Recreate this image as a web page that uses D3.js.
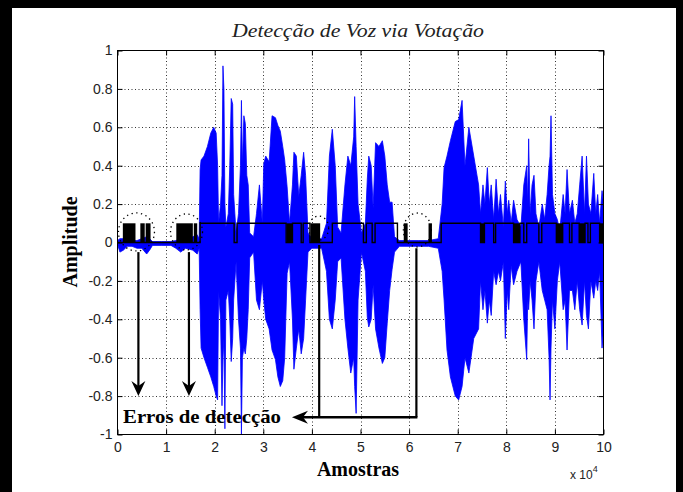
<!DOCTYPE html>
<html>
<head>
<meta charset="utf-8">
<script src="https://cdn.jsdelivr.net/npm/d3@7"></script>
<style>
  body { margin: 0; background: #fff; }
  svg { display: block; }
  .tick text { font-family: "Liberation Sans", Arial, sans-serif; font-size: 14px; fill: #222; }
  .serif { font-family: "Liberation Serif", "Times New Roman", serif; }
</style>
</head>
<body>
<svg id="chart" width="683" height="492"></svg>
<script>
// axis ticks (x in units of 10^4 samples)
const xTicks      = [0, 1, 2, 3, 4, 5, 6, 7, 8, 9, 10];
const xTickLabels = ['0', '1', '2', '3', '4', '5', '6', '7', '8', '9', '10'];
const yTicks      = [-1, -0.8, -0.6, -0.4, -0.2, 0, 0.2, 0.4, 0.6, 0.8, 1];
const yTickLabels = ['-1', '-0.8', '-0.6', '-0.4', '-0.2', '0', '0.2', '0.4', '0.6', '0.8', '1'];

// speech signal envelope
const waveX  = [0.00, 0.05, 0.12, 0.20, 0.30, 0.40, 0.50, 0.60, 0.66, 0.72, 0.90, 1.10, 1.20, 1.30, 1.40, 1.55, 1.64, 1.68,
                1.70, 1.72, 1.78, 1.85, 1.92, 1.98, 2.03, 2.06, 2.08, 2.12, 2.15, 2.17, 2.19, 2.21, 2.23, 2.28, 2.31, 2.34,
                2.37, 2.39, 2.44, 2.49, 2.53, 2.55, 2.57, 2.60, 2.63, 2.66, 2.69, 2.72, 2.80, 2.86, 2.92, 2.98,
                3.01, 3.05, 3.12, 3.18, 3.25, 3.30, 3.35, 3.40, 3.44, 3.49, 3.54, 3.60, 3.63, 3.68, 3.73, 3.78, 3.83, 3.87,
                3.92, 4.00, 4.20, 4.30, 4.36, 4.42, 4.48, 4.53, 4.60, 4.68, 4.74, 4.80, 4.86, 4.88, 4.91, 4.95, 5.02, 5.10,
                5.14, 5.17, 5.22, 5.26, 5.31, 5.38, 5.45, 5.50, 5.55, 5.60, 5.65, 5.70, 5.80, 6.00, 6.20, 6.40, 6.60,
                6.68, 6.72, 6.78, 6.85, 6.95, 7.02, 7.09, 7.15, 7.23, 7.33, 7.43, 7.47, 7.52, 7.56, 7.61, 7.65, 7.69, 7.74,
                7.79, 7.84, 7.88, 7.94, 7.98, 8.02, 8.05, 8.10, 8.15, 8.22, 8.30, 8.36, 8.42, 8.44, 8.46, 8.49, 8.53, 8.57,
                8.61, 8.67, 8.74, 8.79, 8.84, 8.88, 8.90, 8.92, 8.95, 9.00, 9.05, 9.10, 9.17, 9.21, 9.25, 9.30, 9.36, 9.41,
                9.46, 9.51, 9.56, 9.61, 9.65, 9.69, 9.74, 9.80, 9.84, 9.88, 9.92, 9.97, 10.0];
const waveHi = [0.01, 0.02, 0.02, 0.01, 0.01, 0.01, 0.02, 0.03, 0.02, 0.005, 0.005, 0.005, 0.01, 0.02, 0.01, 0.03, 0.04, 0.02,
                0.38, 0.43, 0.45, 0.50, 0.57, 0.60, 0.57, 0.40, 0.10, 0.20, 0.35, 0.92, 0.80, 0.20, 0.08, 0.15, 0.40, 0.75,
                0.72, 0.25, 0.05, 0.15, 0.40, 0.74, 0.40, 0.66, 0.62, 0.35, 0.30, 0.05, 0.03, 0.15, 0.30, 0.10,
                0.41, 0.45, 0.42, 0.66, 0.65, 0.61, 0.58, 0.50, 0.43, 0.29, 0.10, 0.30, 0.47, 0.45, 0.24, 0.35, 0.47, 0.35,
                0.05, 0.02, 0.02, 0.10, 0.45, 0.59, 0.40, 0.08, 0.05, 0.30, 0.45, 0.40, 0.55, 0.76, 0.50, 0.20, 0.05, 0.10,
                0.33, 0.45, 0.40, 0.18, 0.52, 0.50, 0.53, 0.45, 0.30, 0.21, 0.21, 0.03, 0.01, 0.01, 0.01, 0.01, 0.02,
                0.20, 0.39, 0.45, 0.53, 0.63, 0.64, 0.74, 0.40, 0.60, 0.45, 0.30, 0.15, 0.30, 0.20, 0.39, 0.20, 0.30, 0.12,
                0.33, 0.15, 0.25, 0.08, 0.32, 0.15, 0.22, 0.10, 0.22, 0.12, 0.08, 0.30, 0.40, 0.20, 0.54, 0.15, 0.30, 0.35,
                0.15, 0.08, 0.20, 0.12, 0.25, 0.40, 0.45, 0.66, 0.25, 0.15, 0.12, 0.06, 0.25, 0.15, 0.38, 0.15, 0.22, 0.10,
                0.15, 0.30, 0.45, 0.15, 0.45, 0.20, 0.15, 0.36, 0.15, 0.25, 0.10, 0.27, 0.20];
const waveLo = [-0.01, -0.05, -0.04, -0.02, -0.02, -0.03, -0.03, -0.06, -0.04, -0.015, -0.015, -0.015, -0.03, -0.05, -0.03, -0.04, -0.06, -0.03,
                -0.35, -0.55, -0.60, -0.65, -0.70, -0.75, -0.80, -0.82, -0.25, -0.40, -0.85, -0.60, -0.50, -0.97, -0.30, -0.25, -0.40, -0.62,
                -0.50, -0.30, -0.10, -0.40, -0.55, -1.00, -0.60, -0.55, -0.58, -0.50, -0.35, -0.08, -0.05, -0.30, -0.35, -0.20,
                -0.30, -0.40, -0.45, -0.56, -0.61, -0.70, -0.75, -0.72, -0.60, -0.16, -0.10, -0.40, -0.66, -0.55, -0.45, -0.58, -0.50, -0.30,
                -0.05, -0.03, -0.03, -0.15, -0.40, -0.45, -0.30, -0.10, -0.08, -0.40, -0.55, -0.68, -0.60, -0.75, -0.89, -0.30, -0.05, -0.15,
                -0.39, -0.44, -0.40, -0.22, -0.45, -0.55, -0.63, -0.60, -0.42, -0.25, -0.14, -0.05, -0.02, -0.02, -0.02, -0.02, -0.03,
                -0.15, -0.30, -0.56, -0.70, -0.80, -0.82, -0.75, -0.60, -0.68, -0.50, -0.45, -0.20, -0.35, -0.25, -0.42, -0.30, -0.38, -0.15,
                -0.22, -0.15, -0.20, -0.10, -0.50, -0.25, -0.35, -0.12, -0.22, -0.15, -0.10, -0.40, -0.61, -0.30, -0.35, -0.20, -0.30, -0.45,
                -0.20, -0.10, -0.25, -0.30, -0.35, -0.60, -0.82, -0.55, -0.30, -0.45, -0.20, -0.10, -0.35, -0.30, -0.56, -0.25, -0.25, -0.35,
                -0.20, -0.35, -0.43, -0.20, -0.38, -0.45, -0.20, -0.29, -0.20, -0.25, -0.15, -0.55, -0.45];

// voice detector output (0 / 0.1): intervals where it is on, and blocks of fast toggling
const DET_LOW  = 0;
const DET_HIGH = 0.1;
const detOn    = [[1.70, 2.40], [2.46, 3.47], [3.60, 3.78], [3.82, 3.96], [4.42, 5.06], [5.12, 5.24], [5.30, 5.76],
                  [6.66, 7.47], [7.55, 7.74], [7.78, 8.15], [8.28, 8.36], [8.42, 8.67], [8.73, 9.03], [9.16, 9.30],
                  [9.35, 9.50], [9.62, 9.68], [9.73, 9.92]];
const detDense = [[0.11, 0.37], [0.47, 0.56], [0.58, 0.68], [1.21, 1.55], [1.57, 1.64], [3.48, 3.60], [3.97, 4.17],
                  [5.89, 5.97], [6.40, 6.47], [7.47, 7.55], [8.15, 8.28], [9.03, 9.16], [9.50, 9.62], [9.92, 10.0]];

// annotations: error circles [x, y, rx px, ry px], arrows, bracket
const errCircles  = [[0.39, 0.055, 18, 19], [1.42, 0.055, 16, 18], [4.14, 0.075, 10, 12], [6.17, 0.065, 14, 17]];
const downArrows  = [[0.43, -0.05, -0.80], [1.47, -0.05, -0.80]];
const bracketX    = [4.15, 6.15];
const bracketTop  = [-0.013, -0.03];
const bracketY    = -0.91;
const bracketTipX = 3.59;

const svg = d3.select('#chart');
const x = d3.scaleLinear().domain([0, 10]).range([117.5, 603.5]);
const y = d3.scaleLinear().domain([-1, 1]).range([434.5, 50.5]);

svg.append('rect').attr('width', 683).attr('height', 492).attr('fill', '#fff');

// dotted grid
const grid = svg.append('g').attr('stroke', '#333').attr('stroke-width', 1).attr('stroke-dasharray', '1,2.5');
grid.selectAll('.gx').data(xTicks.slice(1, -1)).enter().append('line')
  .attr('x1', d => Math.round(x(d)) + 0.5).attr('x2', d => Math.round(x(d)) + 0.5)
  .attr('y1', y(1)).attr('y2', y(-1));
grid.selectAll('.gy').data(yTicks.slice(1, -1)).enter().append('line')
  .attr('y1', d => Math.round(y(d)) + 0.5).attr('y2', d => Math.round(y(d)) + 0.5)
  .attr('x1', x(0)).attr('x2', x(10));

// speech signal
const area = d3.area()
  .x((d, i) => x(waveX[i]))
  .y0((d, i) => y(waveLo[i]))
  .y1((d, i) => y(waveHi[i]));
svg.append('path')
  .attr('d', area(waveX))
  .attr('fill', '#0000ff').attr('stroke', '#0000ff').attr('stroke-width', 0.8);

// dotted error circles
svg.selectAll('.circ').data(errCircles).enter().append('ellipse')
  .attr('cx', d => x(d[0])).attr('cy', d => y(d[1]))
  .attr('rx', d => d[2]).attr('ry', d => d[3])
  .attr('fill', 'none').attr('stroke', '#000').attr('stroke-width', 1.3)
  .attr('stroke-dasharray', '1.3,3.5');

// detector output
const detPts = [[0, DET_LOW]];
detOn.forEach(([a, b]) => detPts.push([a, DET_LOW], [a, DET_HIGH], [b, DET_HIGH], [b, DET_LOW]));
detPts.push([10, DET_LOW]);
svg.append('path')
  .attr('d', d3.line().x(d => x(d[0])).y(d => y(d[1]))(detPts))
  .attr('fill', 'none').attr('stroke', '#000').attr('stroke-width', 1.4);
svg.selectAll('.dense').data(detDense).enter().append('rect')
  .attr('x', d => x(d[0])).attr('width', d => x(d[1]) - x(d[0]))
  .attr('y', y(DET_HIGH)).attr('height', y(DET_LOW) - y(DET_HIGH))
  .attr('fill', '#000');

// axes, ticks inside on all four sides
const xLab = (d, i) => xTickLabels[i];
const yLab = (d, i) => yTickLabels[i];
const axes = [
  [d3.axisBottom(x).tickValues(xTicks).tickFormat(xLab).tickPadding(8), `translate(0,${y(-1)})`],
  [d3.axisTop(x).tickValues(xTicks).tickFormat(''), `translate(0,${y(1)})`],
  [d3.axisLeft(y).tickValues(yTicks).tickFormat(yLab).tickPadding(5), `translate(${x(0)},0)`],
  [d3.axisRight(y).tickValues(yTicks).tickFormat(''), `translate(${x(10)},0)`]
];
axes.forEach(([ax, tr]) => {
  const g = svg.append('g').attr('transform', tr)
    .call(ax.tickSizeInner(-5).tickSizeOuter(0));
  g.select('.domain').remove();
  g.selectAll('.tick line').attr('stroke', '#000');
});
svg.append('rect')
  .attr('x', x(0)).attr('y', y(1)).attr('width', x(10) - x(0)).attr('height', y(-1) - y(1))
  .attr('fill', 'none').attr('stroke', '#000');

// arrows
const arrows = svg.append('g').attr('stroke', '#000').attr('stroke-width', 2.2).attr('fill', 'none');
downArrows.forEach(([ax, y0, y1]) => {
  const px = x(ax), tip = y(y1);
  arrows.append('line').attr('x1', px).attr('x2', px).attr('y1', y(y0)).attr('y2', tip - 6);
  svg.append('path')
    .attr('d', `M${px},${tip} L${px - 7},${tip - 15} L${px},${tip - 10} L${px + 7},${tip - 15} Z`)
    .attr('fill', '#000');
});
bracketX.forEach((bx, i) => {
  arrows.append('line').attr('x1', x(bx)).attr('x2', x(bx)).attr('y1', y(bracketTop[i])).attr('y2', y(bracketY));
});
const tipPx = x(bracketTipX), by = y(bracketY);
arrows.append('line').attr('x1', x(bracketX[1]) + 1).attr('x2', tipPx + 6).attr('y1', by).attr('y2', by)
  .attr('stroke-width', 2.6);
svg.append('path')
  .attr('d', `M${tipPx},${by} L${tipPx + 16},${by - 6.5} L${tipPx + 11},${by} L${tipPx + 16},${by + 6.5} Z`)
  .attr('fill', '#000');

// texts
svg.append('text').attr('class', 'serif')
  .attr('x', 123).attr('y', 422.5)
  .attr('font-size', 18).attr('font-weight', 'bold')
  .attr('textLength', 158).attr('lengthAdjust', 'spacingAndGlyphs')
  .text('Erros de detecção');

svg.append('text').attr('class', 'serif')
  .attr('x', 358).attr('y', 37).attr('text-anchor', 'middle')
  .attr('font-size', 19).attr('font-style', 'italic').attr('fill', '#222')
  .attr('textLength', 252).attr('lengthAdjust', 'spacingAndGlyphs')
  .text('Detecção de Voz via Votação');

svg.append('text').attr('class', 'serif')
  .attr('x', 358).attr('y', 476).attr('text-anchor', 'middle')
  .attr('font-size', 20).attr('font-weight', 'bold')
  .text('Amostras');

svg.append('text').attr('class', 'serif')
  .attr('transform', 'translate(77,242) rotate(-90)').attr('text-anchor', 'middle')
  .attr('font-size', 20).attr('font-weight', 'bold')
  .text('Amplitude');

const expo = svg.append('text')
  .attr('x', 570).attr('y', 479)
  .attr('font-family', '"Liberation Sans", Arial, sans-serif').attr('font-size', 12).attr('fill', '#222');
expo.append('tspan').text('x 10');
expo.append('tspan').attr('dy', -7).attr('font-size', 9).text('4');

// outer frame
svg.append('rect').attr('x', 0).attr('y', 0).attr('width', 12).attr('height', 492).attr('fill', '#000');
svg.append('rect').attr('x', 0).attr('y', 0).attr('width', 683).attr('height', 8).attr('fill', '#000');
svg.append('rect').attr('x', 676).attr('y', 0).attr('width', 7).attr('height', 492).attr('fill', '#000');
</script>
</body>
</html>
